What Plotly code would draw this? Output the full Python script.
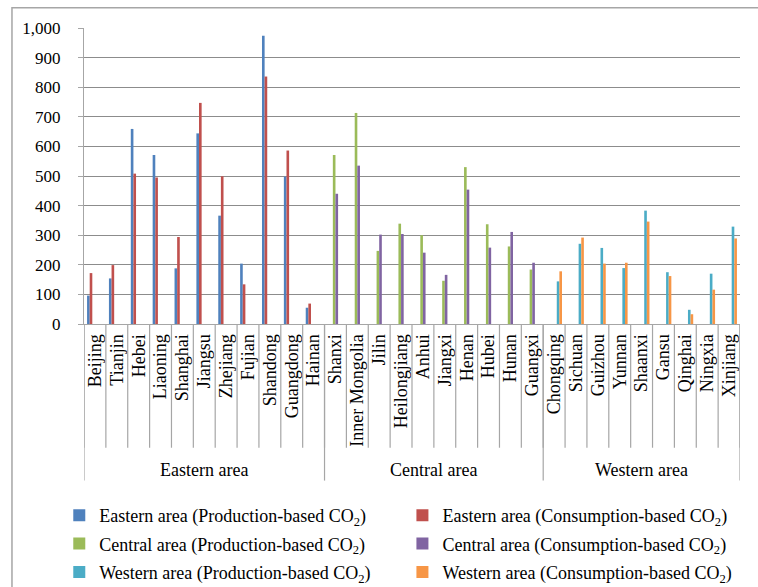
import plotly.graph_objects as go

eastern = ["Beijing", "Tianjin", "Hebei", "Liaoning", "Shanghai", "Jiangsu", "Zhejiang",
           "Fujian", "Shandong", "Guangdong", "Hainan"]
central = ["Shanxi", "Inner Mongolia", "Jilin", "Heilongjiang", "Anhui", "Jiangxi", "Henan",
           "Hubei", "Hunan", "Guangxi"]
western = ["Chongqing", "Sichuan", "Guizhou", "Yunnan", "Shaanxi", "Gansu", "Qinghai",
           "Ningxia", "Xinjiang"]

eastern_prod = [96, 154, 659, 571, 188, 644, 366, 204, 974, 498, 55]
eastern_cons = [172, 199, 508, 495, 294, 747, 499, 134, 836, 586, 69]
central_prod = [571, 713, 247, 339, 300, 146, 530, 337, 262, 184]
central_cons = [440, 535, 302, 304, 241, 166, 454, 258, 311, 207]
western_prod = [144, 271, 257, 189, 383, 175, 48, 170, 329]
western_cons = [178, 292, 204, 207, 346, 162, 33, 116, 289]

area_names = ["Eastern area", "Central area", "Western area"]
y_ticks = list(range(0, 1001, 100))

provinces = eastern + central + western
groups = [eastern, central, western]

colors = {
    ("Eastern area", "prod"): "#4F81BD",
    ("Eastern area", "cons"): "#C0504D",
    ("Central area", "prod"): "#9BBB59",
    ("Central area", "cons"): "#8064A2",
    ("Western area", "prod"): "#4BACC6",
    ("Western area", "cons"): "#F79646",
}
values = {
    ("Eastern area", "prod"): eastern_prod,
    ("Eastern area", "cons"): eastern_cons,
    ("Central area", "prod"): central_prod,
    ("Central area", "cons"): central_cons,
    ("Western area", "prod"): western_prod,
    ("Western area", "cons"): western_cons,
}

FONT = "Liberation Serif"
fig = go.Figure()

for gi, (area, members) in enumerate(zip(area_names, groups)):
    for kind in ["prod", "cons"]:
        vals = dict(zip(members, values[(area, kind)]))
        y = [vals.get(p) for p in provinces]
        label = "Production-based" if kind == "prod" else "Consumption-based"
        fig.add_trace(go.Bar(
            x=provinces, y=y,
            name=f"{area} ({label} CO<sub>2</sub>)",
            marker=dict(color=colors[(area, kind)], line=dict(width=0)),
            legend="legend" if kind == "prod" else "legend2",
            legendgroup=f"{area}-{kind}",
        ))

# category boundary tick lines and area dividers
shapes = []
n = len(provinces)
for i in range(n + 1):
    shapes.append(dict(type="line", xref="x", yref="paper", x0=i - 0.5, x1=i - 0.5,
                       y0=0, y1=-0.418, line=dict(color="#A6A6A6", width=1.2)))
start = 0
bounds = [0]
for members in groups:
    start += len(members)
    bounds.append(start)
for b in bounds:
    shapes.append(dict(type="line", xref="x", yref="paper", x0=b - 0.5, x1=b - 0.5,
                       y0=0, y1=-0.529, line=dict(color="#A6A6A6", width=1.2)))
# outer frame
shapes.append(dict(type="rect", xref="paper", yref="paper", x0=-0.1098, x1=1.04,
                   y0=-0.92, y1=1.0686, line=dict(color="#A6A6A6", width=1.5),
                   fillcolor="rgba(0,0,0,0)", layer="below"))

annotations = []
for area, b0, b1 in zip(area_names, bounds[:-1], bounds[1:]):
    annotations.append(dict(text=area, xref="x", yref="paper", x=(b0 + b1 - 1) / 2,
                            y=-0.492, showarrow=False,
                            font=dict(family=FONT, size=18, color="black"),
                            xanchor="center", yanchor="middle"))

fig.update_layout(
    width=758, height=587,
    margin=dict(l=84, r=18, t=28, b=263, autoexpand=False),
    paper_bgcolor="white", plot_bgcolor="white",
    barmode="group", bargap=0.28, bargroupgap=0,
    font=dict(family=FONT, size=18, color="black"),
    shapes=shapes, annotations=annotations,
    legend=dict(x=0.0782, xref="container", xanchor="left", y=0.1533, yref="container",
                yanchor="top",
                font=dict(family=FONT, size=18, color="black"),
                tracegroupgap=2, itemwidth=30, bgcolor="rgba(0,0,0,0)"),
    legend2=dict(x=0.5309, xref="container", xanchor="left", y=0.1533, yref="container",
                 yanchor="top",
                 font=dict(family=FONT, size=18, color="black"),
                 tracegroupgap=2, itemwidth=30, bgcolor="rgba(0,0,0,0)"),
    xaxis=dict(type="category", categoryorder="array", categoryarray=provinces,
               tickmode="array", tickvals=provinces, ticktext=provinces,
               range=[-0.5, n - 0.5], tickangle=-90, ticks="", showline=True,
               linecolor="#A6A6A6", linewidth=1.2, showgrid=False, automargin=False,
               tickfont=dict(family=FONT, size=18, color="black"),
               ticklabelstandoff=2),
    yaxis=dict(range=[0, 1000], tickvals=y_ticks, tickformat=",", ticks="outside",
               ticklen=5, tickcolor="#A6A6A6", showline=True, linecolor="#A6A6A6",
               linewidth=1.2, gridcolor="#8C8C8C", gridwidth=1, zeroline=False,
               automargin=False,
               tickfont=dict(family=FONT, size=17, color="black"),
               ticklabelstandoff=14),
)

fig.write_html("out.html", config={"displayModeBar": False},
               post_script="document.body.style.margin='0';")
